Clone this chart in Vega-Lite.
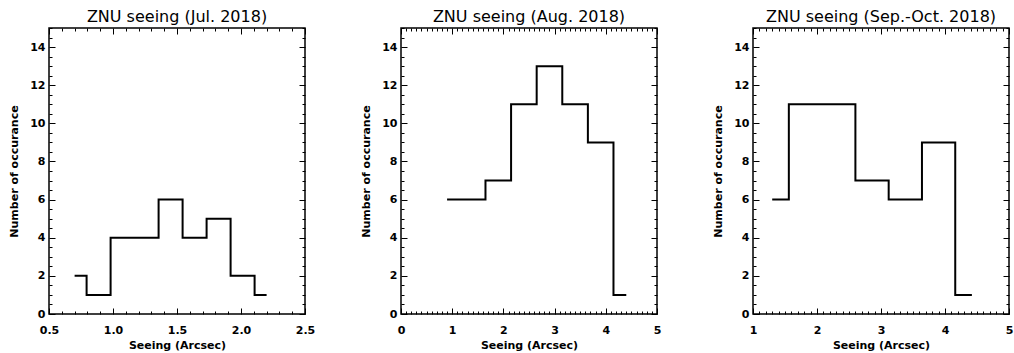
{
  "$schema": "https://vega.github.io/schema/vega-lite/v6.json",
  "padding": {"left": 7, "top": 8, "right": 0, "bottom": 0},
  "background": "white",
  "data": {"values": [
    {"panel": "Jul", "seeing": 0.7, "n": 2},
    {"panel": "Jul", "seeing": 0.8875, "n": 1},
    {"panel": "Jul", "seeing": 1.075, "n": 4},
    {"panel": "Jul", "seeing": 1.2625, "n": 4},
    {"panel": "Jul", "seeing": 1.45, "n": 6},
    {"panel": "Jul", "seeing": 1.6375, "n": 4},
    {"panel": "Jul", "seeing": 1.825, "n": 5},
    {"panel": "Jul", "seeing": 2.0125, "n": 2},
    {"panel": "Jul", "seeing": 2.2, "n": 1},
    {"panel": "Aug", "seeing": 0.9, "n": 6},
    {"panel": "Aug", "seeing": 1.4, "n": 6},
    {"panel": "Aug", "seeing": 1.9, "n": 7},
    {"panel": "Aug", "seeing": 2.4, "n": 11},
    {"panel": "Aug", "seeing": 2.9, "n": 13},
    {"panel": "Aug", "seeing": 3.4, "n": 11},
    {"panel": "Aug", "seeing": 3.9, "n": 9},
    {"panel": "Aug", "seeing": 4.4, "n": 1},
    {"panel": "Sep", "seeing": 1.3, "n": 6},
    {"panel": "Sep", "seeing": 1.82, "n": 11},
    {"panel": "Sep", "seeing": 2.34, "n": 11},
    {"panel": "Sep", "seeing": 2.86, "n": 7},
    {"panel": "Sep", "seeing": 3.38, "n": 6},
    {"panel": "Sep", "seeing": 3.9, "n": 9},
    {"panel": "Sep", "seeing": 4.42, "n": 1}
  ]},
  "spacing": 96,
  "bounds": "flush",
  "config": {
    "view": {"stroke": "black", "strokeWidth": 1.5},
    "font": "DejaVu Sans",
    "title": {"font": "DejaVu Sans", "fontSize": 16, "fontWeight": "normal", "color": "black", "offset": -3},
    "axis": {
      "domain": false, "grid": false,
      "tickColor": "black", "tickWidth": 1,
      "labelFont": "DejaVu Sans", "labelFontSize": 11, "labelFontWeight": "bold", "labelColor": "black",
      "titleFont": "DejaVu Sans", "titleFontSize": 11, "titleFontWeight": "bold", "titleColor": "black",
      "labelFlush": false, "labelOverlap": false
    }
  },
  "hconcat": [
    {
      "width": 256, "height": 286,
      "title": "ZNU seeing (Jul. 2018)",
      "transform": [{"filter": "datum.panel == 'Jul'"}],
      "layer": [
        {
          "mark": {"type": "line", "interpolate": "step", "color": "black", "strokeWidth": 2},
          "encoding": {
            "x": {"field": "seeing", "type": "quantitative", "scale": {"domain": [0.5, 2.5], "nice": false, "zero": false},
              "axis": {"orient": "bottom", "title": "Seeing (Arcsec)", "values": [0.5,0.6,0.7,0.8,0.9,1.0,1.1,1.2,1.3,1.4,1.5,1.6,1.7,1.8,1.9,2.0,2.1,2.2,2.3,2.4,2.5],
                "tickSize": {"condition": {"test": "abs(datum.value*2 - round(datum.value*2)) < 1e-6", "value": -6}, "value": -3},
                "labelExpr": "abs(datum.value*2 - round(datum.value*2)) < 1e-6 ? format(datum.value, '.1f') : ''",
                "labelPadding": 16, "titlePadding": 1}},
            "y": {"field": "n", "type": "quantitative", "scale": {"domain": [0, 15], "nice": false},
              "axis": {"orient": "left", "title": "Number of occurance", "values": [0,0.5,1,1.5,2,2.5,3,3.5,4,4.5,5,5.5,6,6.5,7,7.5,8,8.5,9,9.5,10,10.5,11,11.5,12,12.5,13,13.5,14,14.5,15],
                "tickSize": {"condition": {"test": "datum.value % 2 == 0", "value": -6}, "value": -3},
                "labelExpr": "datum.value % 2 == 0 && datum.value < 15 ? format(datum.value, 'd') : ''",
                "labelPadding": 10, "titlePadding": 10}}
          }
        },
        {
          "mark": {"type": "line", "opacity": 0},
          "encoding": {
            "x": {"field": "seeing", "type": "quantitative",
              "axis": {"orient": "top", "title": null, "labels": false, "values": [0.5,0.6,0.7,0.8,0.9,1.0,1.1,1.2,1.3,1.4,1.5,1.6,1.7,1.8,1.9,2.0,2.1,2.2,2.3,2.4,2.5],
                "tickSize": {"condition": {"test": "abs(datum.value*2 - round(datum.value*2)) < 1e-6", "value": -6}, "value": -3}}},
            "y": {"field": "n", "type": "quantitative",
              "axis": {"orient": "right", "title": null, "labels": false, "values": [0,0.5,1,1.5,2,2.5,3,3.5,4,4.5,5,5.5,6,6.5,7,7.5,8,8.5,9,9.5,10,10.5,11,11.5,12,12.5,13,13.5,14,14.5,15],
                "tickSize": {"condition": {"test": "datum.value % 2 == 0", "value": -6}, "value": -3}}}
          }
        }
      ],
      "resolve": {"axis": {"x": "independent", "y": "independent"}}
    },
    {
      "width": 256, "height": 286,
      "title": "ZNU seeing (Aug. 2018)",
      "transform": [{"filter": "datum.panel == 'Aug'"}],
      "layer": [
        {
          "mark": {"type": "line", "interpolate": "step", "color": "black", "strokeWidth": 2},
          "encoding": {
            "x": {"field": "seeing", "type": "quantitative", "scale": {"domain": [0, 5], "nice": false, "zero": false},
              "axis": {"orient": "bottom", "title": "Seeing (Arcsec)", "values": [0,0.1,0.2,0.3,0.4,0.5,0.6,0.7,0.8,0.9,1,1.1,1.2,1.3,1.4,1.5,1.6,1.7,1.8,1.9,2,2.1,2.2,2.3,2.4,2.5,2.6,2.7,2.8,2.9,3,3.1,3.2,3.3,3.4,3.5,3.6,3.7,3.8,3.9,4,4.1,4.2,4.3,4.4,4.5,4.6,4.7,4.8,4.9,5],
                "tickSize": {"condition": {"test": "abs(datum.value - round(datum.value)) < 1e-6", "value": -6}, "value": -3},
                "labelExpr": "abs(datum.value - round(datum.value)) < 1e-6 ? format(datum.value, 'd') : ''",
                "labelPadding": 16, "titlePadding": 1}},
            "y": {"field": "n", "type": "quantitative", "scale": {"domain": [0, 15], "nice": false},
              "axis": {"orient": "left", "title": "Number of occurance", "values": [0,0.5,1,1.5,2,2.5,3,3.5,4,4.5,5,5.5,6,6.5,7,7.5,8,8.5,9,9.5,10,10.5,11,11.5,12,12.5,13,13.5,14,14.5,15],
                "tickSize": {"condition": {"test": "datum.value % 2 == 0", "value": -6}, "value": -3},
                "labelExpr": "datum.value % 2 == 0 && datum.value < 15 ? format(datum.value, 'd') : ''",
                "labelPadding": 10, "titlePadding": 10}}
          }
        },
        {
          "mark": {"type": "line", "opacity": 0},
          "encoding": {
            "x": {"field": "seeing", "type": "quantitative",
              "axis": {"orient": "top", "title": null, "labels": false, "values": [0,0.1,0.2,0.3,0.4,0.5,0.6,0.7,0.8,0.9,1,1.1,1.2,1.3,1.4,1.5,1.6,1.7,1.8,1.9,2,2.1,2.2,2.3,2.4,2.5,2.6,2.7,2.8,2.9,3,3.1,3.2,3.3,3.4,3.5,3.6,3.7,3.8,3.9,4,4.1,4.2,4.3,4.4,4.5,4.6,4.7,4.8,4.9,5],
                "tickSize": {"condition": {"test": "abs(datum.value - round(datum.value)) < 1e-6", "value": -6}, "value": -3}}},
            "y": {"field": "n", "type": "quantitative",
              "axis": {"orient": "right", "title": null, "labels": false, "values": [0,0.5,1,1.5,2,2.5,3,3.5,4,4.5,5,5.5,6,6.5,7,7.5,8,8.5,9,9.5,10,10.5,11,11.5,12,12.5,13,13.5,14,14.5,15],
                "tickSize": {"condition": {"test": "datum.value % 2 == 0", "value": -6}, "value": -3}}}
          }
        }
      ],
      "resolve": {"axis": {"x": "independent", "y": "independent"}}
    },
    {
      "width": 256, "height": 286,
      "title": "ZNU seeing (Sep.-Oct. 2018)",
      "transform": [{"filter": "datum.panel == 'Sep'"}],
      "layer": [
        {
          "mark": {"type": "line", "interpolate": "step", "color": "black", "strokeWidth": 2},
          "encoding": {
            "x": {"field": "seeing", "type": "quantitative", "scale": {"domain": [1, 5], "nice": false, "zero": false},
              "axis": {"orient": "bottom", "title": "Seeing (Arcsec)", "values": [1,1.1,1.2,1.3,1.4,1.5,1.6,1.7,1.8,1.9,2,2.1,2.2,2.3,2.4,2.5,2.6,2.7,2.8,2.9,3,3.1,3.2,3.3,3.4,3.5,3.6,3.7,3.8,3.9,4,4.1,4.2,4.3,4.4,4.5,4.6,4.7,4.8,4.9,5],
                "tickSize": {"condition": {"test": "abs(datum.value - round(datum.value)) < 1e-6", "value": -6}, "value": -3},
                "labelExpr": "abs(datum.value - round(datum.value)) < 1e-6 ? format(datum.value, 'd') : ''",
                "labelPadding": 16, "titlePadding": 1}},
            "y": {"field": "n", "type": "quantitative", "scale": {"domain": [0, 15], "nice": false},
              "axis": {"orient": "left", "title": "Number of occurance", "values": [0,0.5,1,1.5,2,2.5,3,3.5,4,4.5,5,5.5,6,6.5,7,7.5,8,8.5,9,9.5,10,10.5,11,11.5,12,12.5,13,13.5,14,14.5,15],
                "tickSize": {"condition": {"test": "datum.value % 2 == 0", "value": -6}, "value": -3},
                "labelExpr": "datum.value % 2 == 0 && datum.value < 15 ? format(datum.value, 'd') : ''",
                "labelPadding": 10, "titlePadding": 10}}
          }
        },
        {
          "mark": {"type": "line", "opacity": 0},
          "encoding": {
            "x": {"field": "seeing", "type": "quantitative",
              "axis": {"orient": "top", "title": null, "labels": false, "values": [1,1.1,1.2,1.3,1.4,1.5,1.6,1.7,1.8,1.9,2,2.1,2.2,2.3,2.4,2.5,2.6,2.7,2.8,2.9,3,3.1,3.2,3.3,3.4,3.5,3.6,3.7,3.8,3.9,4,4.1,4.2,4.3,4.4,4.5,4.6,4.7,4.8,4.9,5],
                "tickSize": {"condition": {"test": "abs(datum.value - round(datum.value)) < 1e-6", "value": -6}, "value": -3}}},
            "y": {"field": "n", "type": "quantitative",
              "axis": {"orient": "right", "title": null, "labels": false, "values": [0,0.5,1,1.5,2,2.5,3,3.5,4,4.5,5,5.5,6,6.5,7,7.5,8,8.5,9,9.5,10,10.5,11,11.5,12,12.5,13,13.5,14,14.5,15],
                "tickSize": {"condition": {"test": "datum.value % 2 == 0", "value": -6}, "value": -3}}}
          }
        }
      ],
      "resolve": {"axis": {"x": "independent", "y": "independent"}}
    }
  ]
}
